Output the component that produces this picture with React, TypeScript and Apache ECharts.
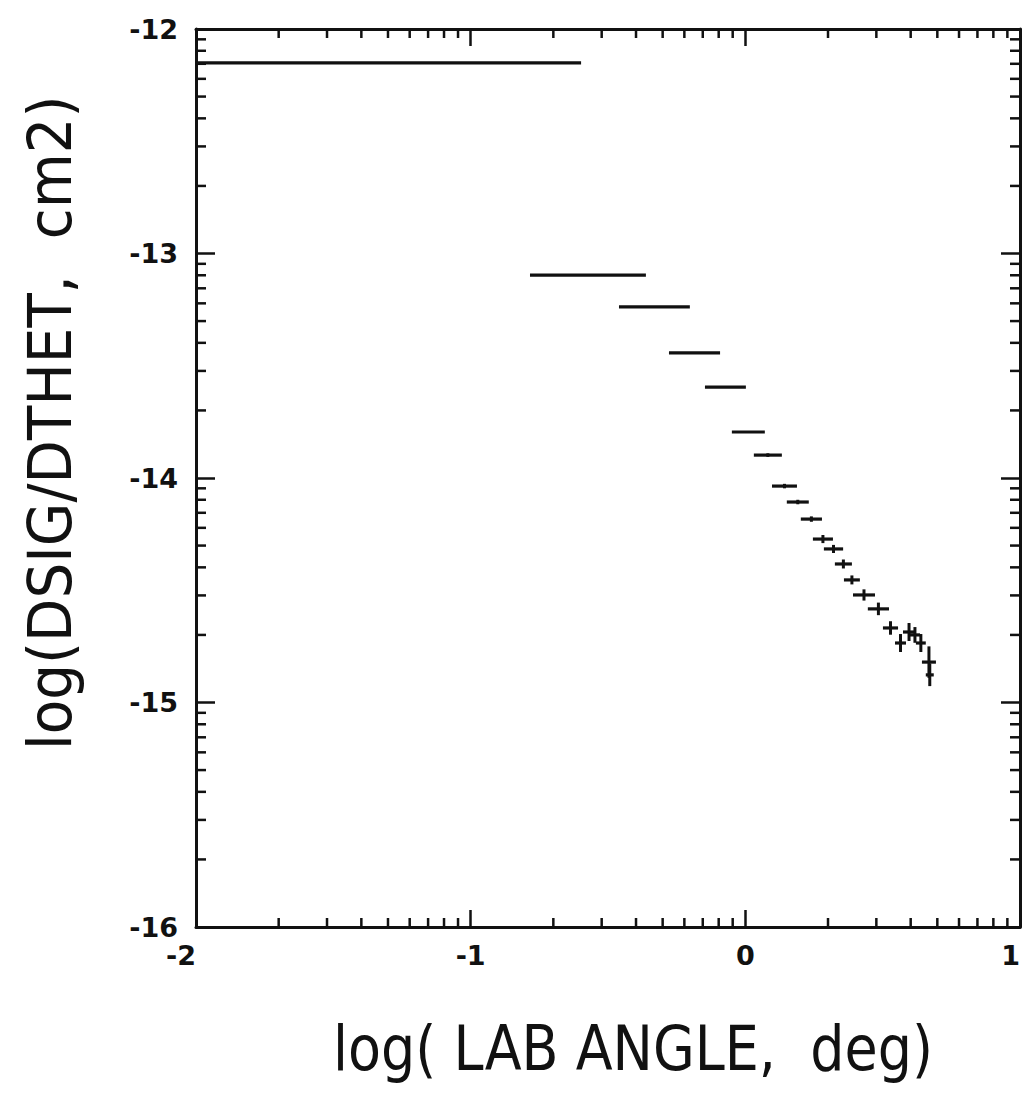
import React, { useEffect, useRef } from "react";
import * as echarts from "echarts";

// ---- data ----
// each bin: lower / upper edge of log(lab angle), log(dsig/dtheta) and half error
const binLow = [-2.0, -0.784, -0.46, -0.278, -0.147, -0.049, 0.031, 0.097, 0.151, 0.202, 0.246, 0.286, 0.326, 0.359, 0.392, 0.446, 0.501, 0.545, 0.574, 0.599, 0.621, 0.643, 0.657];
const binHigh = [-0.598, -0.362, -0.202, -0.092, 0.002, 0.071, 0.133, 0.188, 0.231, 0.279, 0.319, 0.356, 0.388, 0.417, 0.472, 0.523, 0.556, 0.585, 0.618, 0.636, 0.657, 0.694, 0.686];
const logSigma = [-12.151, -13.096, -13.238, -13.443, -13.595, -13.795, -13.898, -14.036, -14.107, -14.183, -14.272, -14.316, -14.383, -14.454, -14.521, -14.583, -14.668, -14.735, -14.686, -14.699, -14.735, -14.82, -14.877];
const sigmaErr = [0, 0, 0, 0, 0, 0, 0.008, 0.01, 0.01, 0.012, 0.018, 0.018, 0.02, 0.02, 0.025, 0.028, 0.03, 0.04, 0.04, 0.035, 0.04, 0.07, 0.05];

// axis ranges / decades
const xDecades = [-2, -1, 0, 1];
const yDecades = [-16, -15, -14, -13, -12];
// minor (log) tick offsets inside a decade: log10(2..9)
const minorOffsets = [0.301, 0.477, 0.602, 0.699, 0.778, 0.845, 0.903, 0.954];

const xTitle = "log( LAB ANGLE,  deg)";
const yTitle = "log(DSIG/DTHET,  cm2)";

const INK = "#111";

export default function App() {
  const ref = useRef<HTMLDivElement>(null);

  useEffect(() => {
    if (!ref.current) return;
    const chart = echarts.init(ref.current, undefined, { renderer: "svg" });

    const xMin = xDecades[0];
    const xMax = xDecades[xDecades.length - 1];
    const yMin = yDecades[0];
    const yMax = yDecades[yDecades.length - 1];

    const tickData: any[] = [];
    xDecades.slice(0, -1).forEach((d) => {
      minorOffsets.forEach((o) => {
        tickData.push([d + o, yMin, 0]); // bottom
        tickData.push([d + o, yMax, 1]); // top
      });
    });
    yDecades.slice(0, -1).forEach((d) => {
      minorOffsets.forEach((o) => {
        tickData.push([xMin, d + o, 2]); // left
        tickData.push([xMax, d + o, 3]); // right
      });
    });

    const binData = binLow.map((lo, i) => [lo, binHigh[i], logSigma[i], sigmaErr[i]]);

    const labelFont = {
      fontFamily: "DejaVu Sans",
      fontWeight: "bold" as const,
      fontSize: 27,
      lineHeight: 28,
      color: INK,
    };

    const option: any = {
      animation: false,
      backgroundColor: "#ffffff",
      grid: {
        left: 196,
        right: 7,
        top: 29,
        bottom: 178,
        containLabel: false,
        outerBoundsMode: "none",
      },
      xAxis: [
        {
          type: "value",
          min: xMin,
          max: xMax,
          interval: 1,
          position: "bottom",
          axisLine: { show: true, onZero: false, lineStyle: { color: INK, width: 3 } },
          axisTick: { show: true, inside: true, length: 17, lineStyle: { color: INK, width: 2.5 } },
          axisLabel: { ...labelFont, margin: 14, alignMinLabel: "right", alignMaxLabel: "right" },
          splitLine: { show: false },
        },
        {
          type: "value",
          min: xMin,
          max: xMax,
          interval: 1,
          position: "top",
          axisLine: { show: true, onZero: false, lineStyle: { color: INK, width: 3 } },
          axisTick: { show: true, inside: true, length: 17, lineStyle: { color: INK, width: 2.5 } },
          axisLabel: { show: false },
          splitLine: { show: false },
        },
      ],
      yAxis: [
        {
          type: "value",
          min: yMin,
          max: yMax,
          interval: 1,
          position: "left",
          axisLine: { show: true, onZero: false, lineStyle: { color: INK, width: 3 } },
          axisTick: { show: true, inside: true, length: 19, lineStyle: { color: INK, width: 2.5 } },
          axisLabel: { ...labelFont, margin: 18 },
          splitLine: { show: false },
        },
        {
          type: "value",
          min: yMin,
          max: yMax,
          interval: 1,
          position: "right",
          axisLine: { show: true, onZero: false, lineStyle: { color: INK, width: 3 } },
          axisTick: { show: true, inside: true, length: 19, lineStyle: { color: INK, width: 2.5 } },
          axisLabel: { show: false },
          splitLine: { show: false },
        },
      ],
      series: [
        {
          type: "custom",
          name: "minor ticks",
          xAxisIndex: 0,
          yAxisIndex: 0,
          silent: true,
          clip: false,
          encode: { x: 0, y: 1 },
          data: tickData,
          renderItem: (params: any, api: any) => {
            const p = api.coord([api.value(0), api.value(1)]);
            const side = api.value(2);
            const len = side < 2 ? 9 : 10;
            let x2 = p[0];
            let y2 = p[1];
            if (side === 0) y2 = p[1] - len;
            else if (side === 1) y2 = p[1] + len;
            else if (side === 2) x2 = p[0] + len;
            else x2 = p[0] - len;
            return {
              type: "line",
              shape: { x1: p[0], y1: p[1], x2, y2 },
              style: { stroke: INK, lineWidth: 2.5 },
            };
          },
        },
        {
          type: "custom",
          name: "dsig/dtheta",
          xAxisIndex: 0,
          yAxisIndex: 0,
          silent: true,
          encode: { x: [0, 1], y: 2 },
          data: binData,
          renderItem: (params: any, api: any) => {
            const lo = api.value(0);
            const hi = api.value(1);
            const y = api.value(2);
            const e = api.value(3);
            const a = api.coord([lo, y]);
            const b = api.coord([hi, y]);
            const mid = (lo + hi) / 2;
            const c = api.coord([mid, y + e]);
            const d = api.coord([mid, y - e]);
            const children: any[] = [
              {
                type: "line",
                shape: { x1: a[0], y1: a[1], x2: b[0], y2: b[1] },
                style: { stroke: INK, lineWidth: 3.2 },
              },
            ];
            if (e > 0) {
              children.push({
                type: "line",
                shape: { x1: c[0], y1: c[1], x2: d[0], y2: d[1] },
                style: { stroke: INK, lineWidth: 3 },
              });
            }
            return { type: "group", children };
          },
        },
      ],
      graphic: [
        {
          type: "text",
          x: 333,
          y: 1049,
          scaleX: 0.87,
          silent: true,
          style: {
            text: xTitle,
            fontFamily: "DejaVu Sans",
            fontSize: 62,
            fill: INK,
            textAlign: "left",
            textVerticalAlign: "middle",
          },
        },
        {
          type: "text",
          x: 50,
          y: 750,
          rotation: Math.PI / 2,
          scaleX: 0.94,
          silent: true,
          style: {
            text: yTitle,
            fontFamily: "DejaVu Sans",
            fontSize: 60,
            fill: INK,
            textAlign: "left",
            textVerticalAlign: "middle",
          },
        },
      ],
    };

    chart.setOption(option);
    return () => chart.dispose();
  }, []);

  return (
    <div
      ref={ref}
      style={{ position: "fixed", left: 0, top: 0, width: 1027, height: 1105, background: "#fff" }}
    />
  );
}
